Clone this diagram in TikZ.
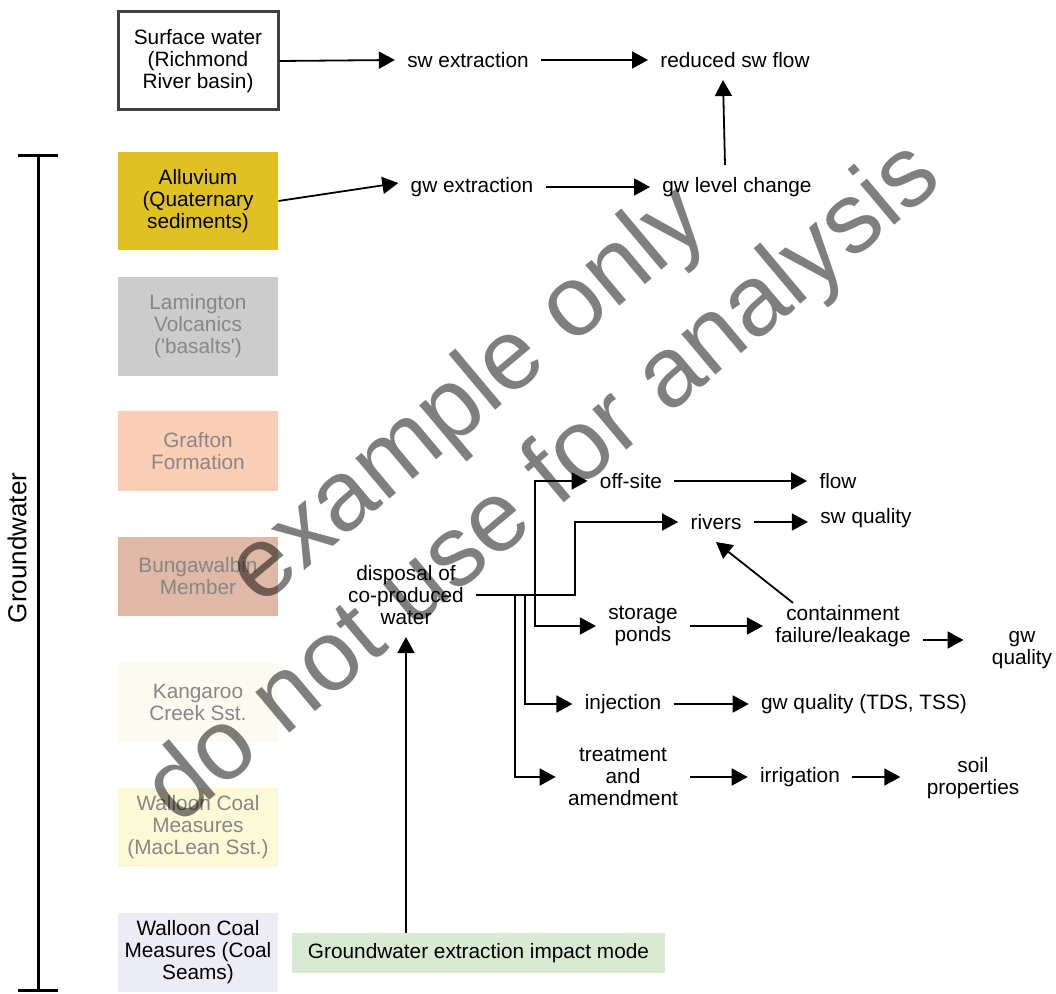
\documentclass[tikz,border=0pt]{standalone}
\usepackage{fontspec}
\setmainfont{Liberation Sans}
\usetikzlibrary{arrows.meta, calc}

\definecolor{alluv}{RGB}{223,193,35}
\definecolor{lamin}{RGB}{204,204,204}
\definecolor{graft}{RGB}{251,206,182}
\definecolor{bunga}{RGB}{224,184,166}
\definecolor{kanga}{RGB}{253,250,240}
\definecolor{macle}{RGB}{252,249,214}
\definecolor{seams}{RGB}{236,236,246}
\definecolor{modegr}{RGB}{217,234,211}
\definecolor{fadetxt}{RGB}{135,135,135}
\definecolor{boxline}{RGB}{64,64,64}

\begin{document}
\begin{tikzpicture}[x=0.5pt, y=-0.5pt,
  every node/.style={font=\fontsize{10.4}{11}\selectfont, align=center},
  layer/.style={minimum width=80pt, minimum height=#1, inner sep=0pt},
  fade/.style={text=fadetxt},
  lbl/.style={inner sep=6pt},
  arr/.style={-{Triangle[length=8pt,width=8.5pt]}, line width=0.9pt},
  wmark/.style={font=\fontsize{50}{55}\selectfont, text=black, text opacity=0.5, rotate=40}]
\useasboundingbox (0,0) rectangle (1056,994);

% strata column
\node[layer=49pt, draw=boxline, line width=1.5pt] (surf) at (198,61) {Surface water\\(Richmond\\River basin)};
\node[layer=49pt, fill=alluv] (alluv) at (198,201) {Alluvium\\(Quaternary\\sediments)};
\node[layer=49.5pt, fill=lamin, fade] (lamin) at (198,326.5) {Lamington\\Volcanics\\(\textquotesingle basalts\textquotesingle)};
\node[layer=40pt, fill=graft, fade] (graft) at (198,451) {Grafton\\Formation};
\node[layer=39.5pt, fill=bunga, fade] (bunga) at (198,576.5) {Bungawalbin\\Member};
\node[layer=39.5pt, fill=kanga, fade] (kanga) at (198,702.5) {Kangaroo\\Creek Sst.};
\node[layer=39.5pt, fill=macle, fade] (macle) at (198,827.5) {Walloon Coal\\Measures\\(MacLean Sst.)};
\node[layer=39.5pt, fill=seams] (seams) at (198,952.5) {Walloon Coal\\Measures (Coal\\Seams)};

% groundwater bracket
\coordinate (gwtop) at (38,154);
\coordinate (gwbot) at (38,992);
\draw[line width=1.5pt, {Bar[width=20pt]}-{Bar[width=20pt]}] (gwtop) -- (gwbot);
\node[rotate=90, font=\fontsize{13}{14}\selectfont] (gwlab) at (17,548) {Groundwater};

\node[minimum width=186.5pt, minimum height=20pt, fill=modegr] (mode) at (478.5,953) {Groundwater extraction impact mode};

% impact chain
\node[lbl] (swext) at (468,60) {sw extraction};
\node[lbl] (redsw) at (735,60) {reduced sw flow};
\node[lbl] (gwext) at (472,187) {gw extraction};
\node[lbl] (gwlev) at (737,187) {gw level change};
\node[lbl] (disp) at (406,595) {disposal of\\co-produced\\water};
\node[lbl] (offsite) at (631,481) {off-site};
\node[lbl] (flow) at (838,481) {flow};
\node[lbl] (rivers) at (716,522) {rivers};
\node[lbl] (swq) at (866,518) {sw quality};
\node[lbl] (ponds) at (643,626) {storage\\ponds};
\node[lbl] (contain) at (843,626) {containment\\failure/leakage};
\node[lbl] (gwq) at (1022,650) {gw\\quality};
\node[lbl] (inj) at (623,704) {injection};
\node[lbl] (tds) at (864,704) {gw quality (TDS, TSS)};
\node[lbl] (treat) at (623,777) {treatment\\and\\amendment};
\node[lbl] (irr) at (800,777) {irrigation};
\node[lbl] (soil) at (973,778) {soil\\properties};

\draw[arr] (surf.east) -- (swext.west);
\draw[arr] (swext) -- (redsw);
\draw[arr] (alluv.east) -- ([yshift=2pt]gwext.west);
\draw[arr] (gwext) -- (gwlev);
\draw[arr] ([xshift=-6pt]gwlev.north) -- ([xshift=-6pt]redsw.south);

\draw[arr] (disp.east) -- ++(99,0) |- (rivers.west);
\draw[arr] (disp.east) ++(59,0) |- (offsite.west);
\draw[arr] (disp.east) ++(59,0) |- (ponds.west);
\draw[arr] (disp.east) ++(49,0) |- (inj.west);
\draw[arr] (disp.east) ++(39,0) |- (treat.west);
\draw[arr] (mode.north -| disp.south) -- (disp.south);

\draw[arr] (offsite) -- (flow);
\draw[arr] (rivers.east) -- (rivers.east -| swq.west);
\draw[arr] ([shift={(-25pt,-5pt)}]contain.north) -- (rivers.south);
\draw[arr] (ponds) -- (contain);
\draw[arr, shorten >=8pt] ([yshift=-7pt]contain.east) -- ([yshift=5pt]gwq.west);
\draw[arr] (inj) -- (tds);
\draw[arr] (treat.east) -- (treat.east -| irr.west);
\draw[arr, shorten >=7pt] (irr.east) -- (irr.east -| soil.west);

% watermark
\node[wmark] (wm1) at (470,398) {example only};
\node[wmark] (wm2) at (545,485) {do not use for analysis};
\end{tikzpicture}
\end{document}
